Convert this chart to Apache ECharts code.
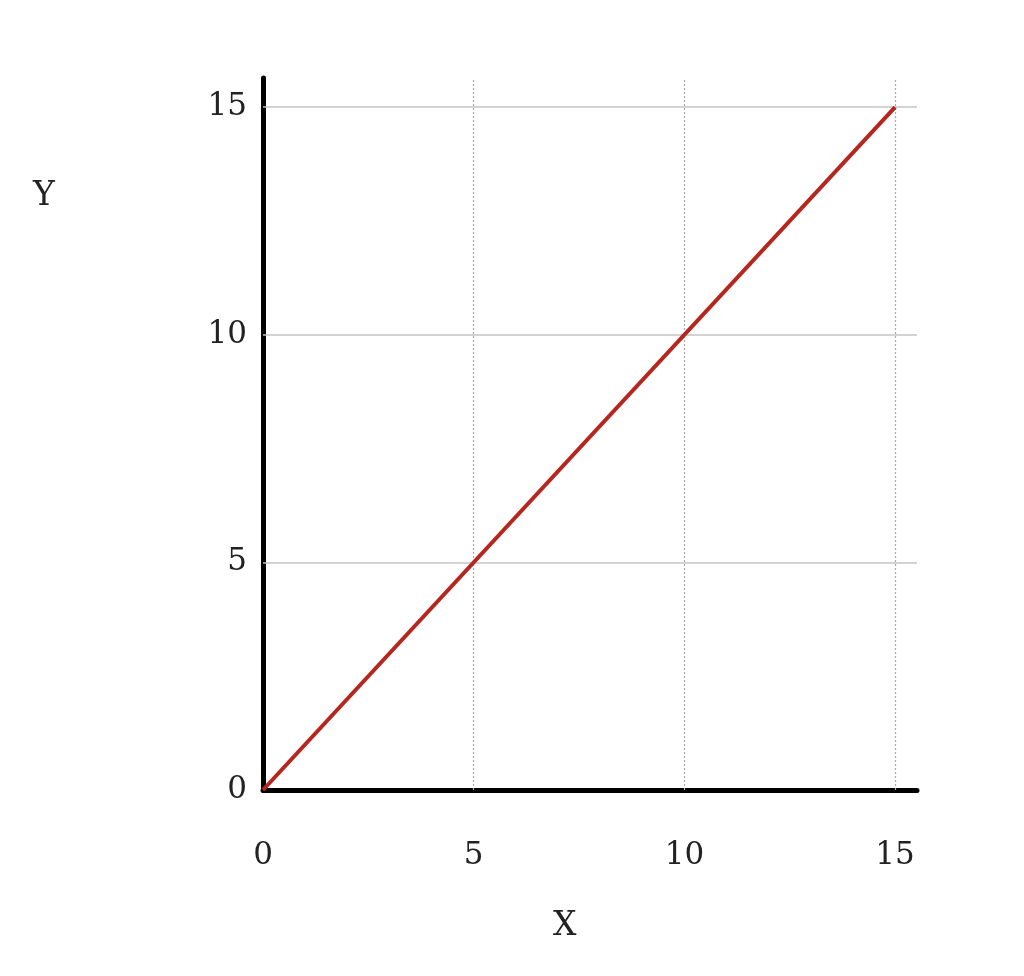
<!DOCTYPE html>
<html lang="en">
<head>
    <meta charset="UTF-8">
    <title>Y = X</title>
    <script src="https://cdn.jsdelivr.net/npm/echarts@6/dist/echarts.min.js"></script>
    <style>
        html, body { margin: 0; padding: 0; background: #fff; }
        #chart { width: 1024px; height: 976px; }
    </style>
</head>
<body>
    <div id="chart"></div>
    <script>
        // line data
        const xValues = [0, 15];
        const yValues = [0, 15];
        // tick / grid positions
        const xTicks = [0, 5, 10, 15];
        const yTicks = [0, 5, 10, 15];
        const xGridLines = [5, 10, 15];
        const yGridLines = [5, 10, 15];

        const FONT = 'DejaVu Serif';
        const chart = echarts.init(document.getElementById('chart'));

        chart.setOption({
            animation: false,
            backgroundColor: '#fff',
            grid: { left: 263, right: 107, top: 78, bottom: 186 },
            xAxis: {
                type: 'value',
                min: 0,
                max: 15.52,
                interval: 5,
                axisLine: { show: true, onZero: false, lineStyle: { color: '#000', width: 5 } },
                axisTick: { show: false },
                splitLine: { show: false },
                axisLabel: {
                    margin: 50,
                    fontFamily: FONT,
                    fontSize: 31,
                    color: '#222',
                    showMaxLabel: false,
                    formatter: v => xTicks.includes(v) ? String(v) : ''
                }
            },
            yAxis: {
                type: 'value',
                min: 0,
                max: 15.64,
                interval: 5,
                axisLine: { show: true, onZero: false, lineStyle: { color: '#000', width: 5 } },
                axisTick: { show: false },
                splitLine: { show: false },
                axisLabel: {
                    margin: 16,
                    fontFamily: FONT,
                    fontSize: 31,
                    color: '#222',
                    showMaxLabel: false,
                    formatter: v => yTicks.includes(v) ? String(v) : ''
                }
            },
            graphic: [
                {
                    type: 'text', left: 33, top: 180,
                    style: { text: 'Y', font: '33px "DejaVu Serif"', fill: '#222' }
                },
                {
                    type: 'text', left: 553, top: 910,
                    style: { text: 'X', font: '33px "DejaVu Serif"', fill: '#222' }
                }
            ],
            series: [
                {
                    type: 'line',
                    data: xValues.map((x, i) => [x, yValues[i]]),
                    symbol: 'none',
                    lineStyle: { color: '#b5261e', width: 4 },
                    z: 5,
                    markLine: {
                        silent: true,
                        symbol: 'none',
                        label: { show: false },
                        animation: false,
                        data: [
                            ...yGridLines.map(v => ({ yAxis: v, lineStyle: { color: '#c4c4c4', width: 1.5, type: 'solid' } })),
                            ...xGridLines.map(v => ({ xAxis: v, lineStyle: { color: '#aaa', width: 1.2, type: [2, 2] } }))
                        ]
                    }
                }
            ]
        });
    </script>
</body>
</html>
